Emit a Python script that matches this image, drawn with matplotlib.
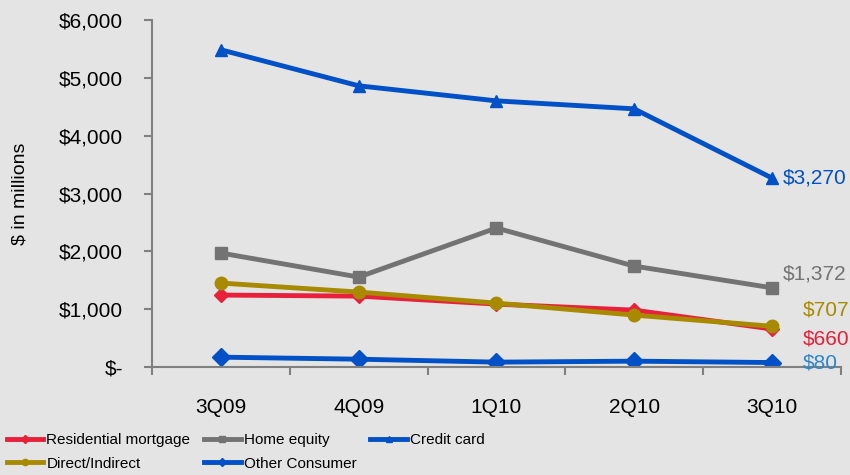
import matplotlib.pyplot as plt
from matplotlib.lines import Line2D
from matplotlib.ticker import FuncFormatter, FixedLocator

plt.rcParams['font.family'] = ['Liberation Sans', 'DejaVu Sans']

quarters = ["3Q09", "4Q09", "1Q10", "2Q10", "3Q10"]
residential = [1246, 1228, 1090, 986, 660]
home_equity = [1972, 1557, 2405, 1747, 1372]
credit_card = [5484, 4862, 4602, 4464, 3270]
direct_indirect = [1453, 1298, 1107, 900, 707]
other_consumer = [173, 138, 87, 104, 80]

bg = "#E4E4E4"
fig = plt.figure(figsize=(8.5, 4.75), dpi=100, facecolor=bg)
ax = fig.add_axes([0.179, 0.227, 0.81, 0.731])
ax.set_facecolor(bg)

x = list(range(len(quarters)))
series = [
    ("Residential mortgage", residential, "#E8203A", "D", 7, "$660", "#E8203A", (22, -7)),
    ("Home equity", home_equity, "#737373", "s", 8, "$1,372", "#737373", (8, 10)),
    ("Credit card", credit_card, "#0050C8", "^", 8, "$3,270", "#0050C8", (8, 0)),
    ("Direct/Indirect", direct_indirect, "#A88A00", "o", 9, "$707", "#A88A00", (22, 12)),
    ("Other Consumer", other_consumer, "#0050C8", "D", 9, "$80", "#2E86C8", (22, 0)),
]

handles = {}
for name, vals, col, mk, ms, lab, lcol, off in series:
    ax.plot(x, vals, color=col, lw=3.5, marker=mk, markersize=ms, solid_capstyle="round")
    handles[name] = Line2D([], [], color=col, lw=3.5, marker=mk, markersize=4.5)
    ax.annotate(lab, (x[-1], vals[-1]), xytext=off, textcoords="offset points",
                color=lcol, fontsize=15, va="center", ha="left", annotation_clip=False)

ax.set_xlim(-0.5, len(quarters) - 0.5)
ax.set_ylim(0, 6000)
ax.set_xticks(x)
ax.set_xticklabels(quarters, fontsize=15)
ax.xaxis.set_minor_locator(FixedLocator([i + 0.5 for i in range(-1, len(quarters))]))
ax.tick_params(axis="x", which="major", length=0, pad=22)
ax.tick_params(axis="x", which="minor", length=6, color="#808080", width=1.5)
ax.set_yticks(range(0, 6001, 1000))
ax.yaxis.set_major_formatter(FuncFormatter(lambda v, p: "$-" if v == 0 else "${:,.0f}".format(v)))
ax.tick_params(axis="y", labelsize=15, length=6, color="#808080", width=1.5, pad=15)
ax.set_ylabel("$ in millions", fontsize=14, labelpad=22)

for s in ["top", "right"]:
    ax.spines[s].set_visible(False)
for s in ["left", "bottom"]:
    ax.spines[s].set_color("#808080")
    ax.spines[s].set_linewidth(1.5)

order = ["Residential mortgage", "Direct/Indirect", "Home equity", "Other Consumer", "Credit card"]
fig.legend([handles[n] for n in order], order, loc="lower left", bbox_to_anchor=(-0.003, -0.01),
           ncol=3, frameon=False, fontsize=11, handlelength=2.4, handletextpad=0.2,
           columnspacing=0.9, labelspacing=0.6, borderaxespad=0.2)

fig.savefig("out.png", dpi=100, facecolor=bg)
